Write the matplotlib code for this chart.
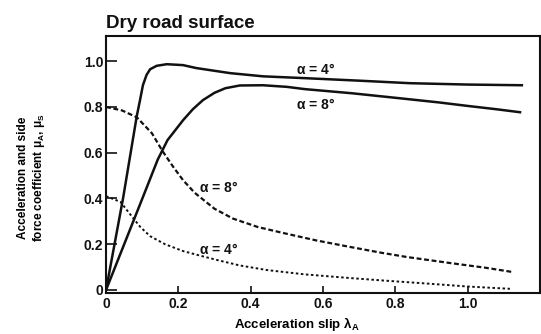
import matplotlib
matplotlib.use("Agg")
import matplotlib.pyplot as plt

plt.rcParams['font.family'] = ['Liberation Sans', 'DejaVu Sans']
plt.rcParams['mathtext.fontset'] = 'custom'
plt.rcParams['mathtext.rm'] = 'Liberation Sans:bold'
plt.rcParams['mathtext.it'] = 'Liberation Sans:bold'

# acceleration coefficient, alpha = 4 deg (solid)
acc4_x = [0, 0.047, 0.066, 0.085, 0.094, 0.102, 0.112, 0.122, 0.14, 0.168, 0.213, 0.25,
          0.343, 0.434, 0.55, 0.7, 0.84, 1.0, 1.15]
acc4_y = [0, 0.4, 0.58, 0.76, 0.83, 0.895, 0.94, 0.965, 0.98, 0.987, 0.983, 0.97,
          0.948, 0.934, 0.926, 0.915, 0.904, 0.898, 0.895]

# acceleration coefficient, alpha = 8 deg (solid)
acc8_x = [0, 0.103, 0.143, 0.17, 0.213, 0.24, 0.268, 0.3, 0.33, 0.37, 0.434, 0.5, 0.55, 0.68,
          0.813, 0.92, 0.998, 1.08, 1.145]
acc8_y = [0, 0.41, 0.57, 0.655, 0.742, 0.79, 0.83, 0.862, 0.882, 0.894, 0.895, 0.888, 0.878, 0.86,
          0.838, 0.82, 0.805, 0.79, 0.777]

# side force coefficient, alpha = 8 deg (dashed)
side8_x = [0, 0.044, 0.085, 0.127, 0.155, 0.185, 0.213, 0.245, 0.3, 0.351, 0.42, 0.49, 0.58, 0.675,
           0.76, 0.832, 0.95, 1.05, 1.122]
side8_y = [0.8, 0.785, 0.755, 0.685, 0.61, 0.54, 0.48, 0.425, 0.355, 0.312, 0.275, 0.249, 0.217,
           0.188, 0.163, 0.144, 0.118, 0.097, 0.079]

# side force coefficient, alpha = 4 deg (dotted)
side4_x = [0, 0.04, 0.072, 0.095, 0.122, 0.163, 0.213, 0.26, 0.307, 0.37, 0.445, 0.55, 0.675,
           0.76, 0.87, 1.0, 1.117]
side4_y = [0.41, 0.385, 0.32, 0.275, 0.235, 0.2, 0.17, 0.15, 0.131, 0.107, 0.087, 0.068, 0.052,
           0.042, 0.03, 0.015, 0.005]

ticks = [0, 0.2, 0.4, 0.6, 0.8, 1.0]
tick_labels = ['0', '0.2', '0.4', '0.6', '0.8', '1.0']

fig = plt.figure(figsize=(5.41, 3.34), dpi=100)
ax = fig.add_axes([0.196, 0.123, 0.802, 0.769])

ink = '#111111'
ax.plot(acc4_x, acc4_y, color=ink, lw=1.8)
ax.plot(acc8_x, acc8_y, color=ink, lw=1.8)
ax.plot(side8_x, side8_y, color=ink, lw=1.6, dashes=(2.2, 1.2))
ax.plot(side4_x, side4_y, color=ink, lw=1.4, dashes=(1.3, 1.3))

lab = dict(fontsize=10, fontweight='bold', ha='center', va='center', color=ink)
ax.text(0.58, 0.965, r'$\alpha$ = 4°', **lab)
ax.text(0.58, 0.81, r'$\alpha$ = 8°', **lab)
ax.text(0.31, 0.45, r'$\alpha$ = 8°', **lab)
ax.text(0.31, 0.175, r'$\alpha$ = 4°', **lab)

ax.set_xlim(0, 1.2)
ax.set_ylim(-0.013, 1.11)
ax.set_xticks(ticks)
ax.set_xticklabels(tick_labels, fontsize=10, fontweight='bold')
ax.set_yticks(ticks)
ax.set_yticklabels(tick_labels, fontsize=10, fontweight='bold')
ax.tick_params(axis='y', direction='in', length=8, width=1.2, pad=2, colors=ink)
ax.tick_params(axis='x', direction='in', length=5, width=1.2, pad=3, colors=ink)
for s in ax.spines.values():
    s.set_linewidth(1.5)
    s.set_color(ink)

ax.set_xlabel(r'Acceleration slip $λ_A$', fontsize=9.5, fontweight='bold')
ax.xaxis.set_label_coords(0.44, -0.085)
ax.set_ylabel('Acceleration and side\nforce coefficient ' + r'$μ_A$, $μ_S$',
              fontsize=8.5, fontweight='bold', linespacing=1.2)
ax.yaxis.set_label_coords(-0.135, 0.45)
fig.text(0.196, 0.915, 'Dry road surface', fontsize=13.5, fontweight='bold', color=ink)

fig.savefig('out.png', dpi=100)
